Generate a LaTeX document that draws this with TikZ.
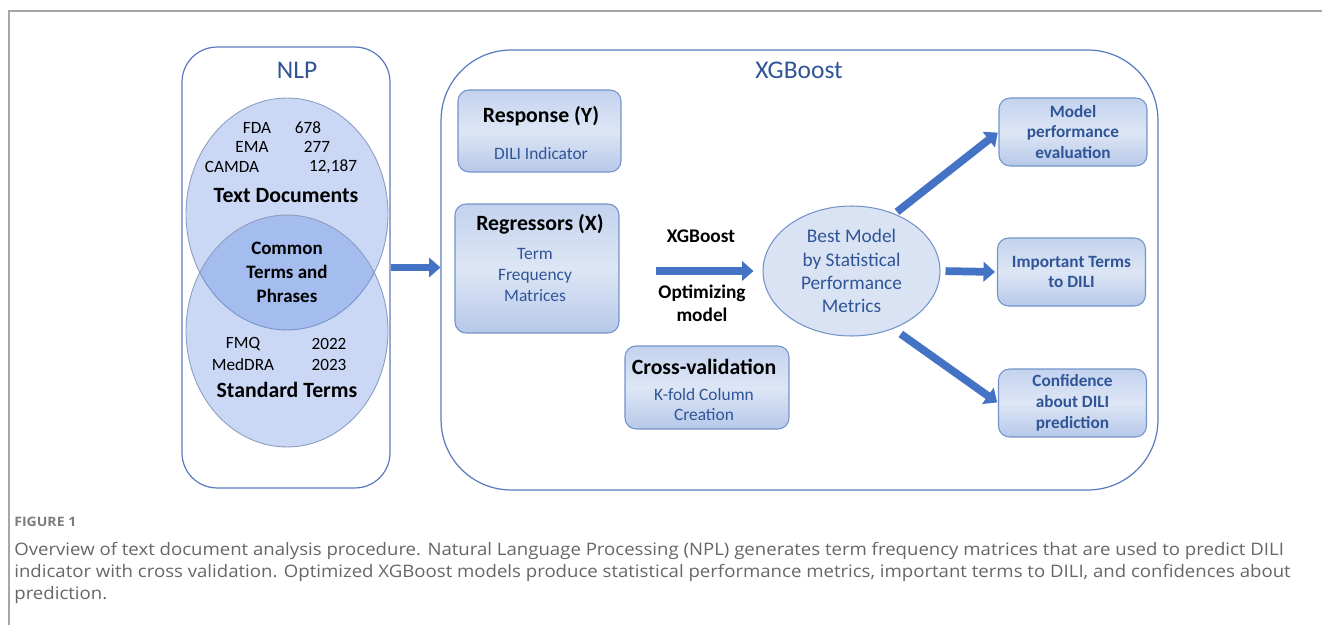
\documentclass[tikz,border=0pt]{standalone}
\usepackage{fontspec}
\setmainfont{Carlito}
\newfontfamily\capfont[FakeStretch=1.08]{Open Sans}
\usepackage{tikz}
\usetikzlibrary{arrows.meta, shapes.geometric}
\definecolor{primary}{HTML}{2F5597}
\definecolor{accent}{HTML}{4472C4}
\definecolor{groupline}{HTML}{5B7BC0}
\definecolor{boxline}{HTML}{7393C9}
\definecolor{boxtop}{HTML}{C3D2EE}
\definecolor{boxmid}{HTML}{DDE6F5}
\definecolor{boxbot}{HTML}{B6C8E9}
\definecolor{ellfill}{HTML}{DAE3F3}
\definecolor{venn}{RGB}{78,125,222}
\definecolor{vennline}{HTML}{8C9CC0}
\definecolor{framegray}{HTML}{A6A6A6}
\definecolor{capgray}{HTML}{666666}

\begin{document}
\begin{tikzpicture}[
    x=0.02cm, y=-0.02cm,
    every node/.style={inner sep=0pt},
    group/.style={
        rectangle,
        draw=groupline,
        line width=0.7pt
    },
    title/.style={
        font=\fontsize{14.5}{16}\selectfont,
        text=primary
    },
    venn/.style={
        ellipse,
        draw=vennline,
        line width=0.5pt,
        fill=venn,
        fill opacity=0.3,
        minimum width=4.04cm,
        minimum height=4.64cm
    },
    small/.style={font=\fontsize{9.8}{11}\selectfont},
    big/.style={font=\fontsize{12.4}{14}\selectfont\bfseries},
    inbox/.style={
        rectangle,
        rounded corners=0.22cm,
        draw=boxline,
        line width=0.6pt,
        top color=boxtop,
        bottom color=boxbot,
        middle color=boxmid
    },
    sub/.style={
        font=\fontsize{9.9}{11.9}\selectfont,
        text=primary,
        align=center
    },
    outbox/.style={
        inbox,
        minimum width=2.96cm,
        minimum height=1.36cm,
        font=\fontsize{9.8}{11.9}\selectfont\bfseries,
        text=primary,
        align=center
    },
    fat/.style={line width=4.4pt, accent, -{Triangle[length=6.5pt, width=11pt]}}
]
\useasboundingbox (0,0) rectangle (1322,625);

% Frame
\draw[framegray, line width=0.8pt] (1322,11) -- (9,11) -- (9,625);

% Groups
\node[group, rounded corners=0.7cm, minimum width=4.16cm, minimum height=8.82cm] (nlp) at (286,267.5) {};
\node[group, rounded corners=1.4cm, minimum width=14.34cm, minimum height=8.8cm] (xgb) at (799.5,270) {};
\node[title] (nlptitle) at (297,70) {NLP};
\node[title] (xgbtitle) at (799,70) {XGBoost};

% Venn diagram
\node[venn] (docs) at (287,214) {};
\node[venn] (terms) at (287,331) {};

\node[small] (fda) at (257,128) {FDA};
\node[small] (fdan) at (308,128) {678};
\node[small] (ema) at (252,147) {EMA};
\node[small] (eman) at (317,147) {277};
\node[small] (camda) at (232,167) {CAMDA};
\node[small] (camdan) at (333,167) {12,187};
\node[big] (docstitle) at (286,196) {Text Documents};

\node[font=\fontsize{10.8}{13.6}\selectfont\bfseries, align=center] (common) at (287,272) {Common\\Terms and\\Phrases};

\node[small] (fmq) at (243,344) {FMQ};
\node[small] (fmqn) at (329,344) {2022};
\node[small] (meddra) at (243,365) {MedDRA};
\node[small] (meddran) at (329,365) {2023};
\node[big] (termstitle) at (287,390) {Standard Terms};

% Inputs
\node[inbox, minimum width=3.26cm, minimum height=1.64cm] (resp) at (539.5,131) {};
\node[big] (resptitle) at (541,116) {Response (Y)};
\node[sub] (respsub) at (541,154) {DILI Indicator};

\node[inbox, minimum width=3.28cm, minimum height=2.58cm] (reg) at (537,268.5) {};
\node[big] (regtitle) at (540,224) {Regressors (X)};
\node[sub] (regsub) at (535,275) {Term\\Frequency\\Matrices};

\node[inbox, minimum width=3.28cm, minimum height=1.66cm] (cv) at (707,387.5) {};
\node[big] (cvtitle) at (704,367) {Cross-validation};
\node[sub] (cvsub) at (704,404.5) {K-fold Column\\Creation};

% Model
\node[font=\fontsize{11}{13}\selectfont\bfseries] (xglabel) at (701,236) {XGBoost};
\node[font=\fontsize{11}{13.2}\selectfont\bfseries, align=center] (optlabel) at (702,303.5) {Optimizing\\model};

\node[ellipse, draw=boxline, line width=0.6pt, fill=ellfill, minimum width=3.54cm, minimum height=2.6cm,
      font=\fontsize{11}{13.2}\selectfont, text=primary, align=center] (best) at (851.5,271)
      {Best Model\\by Statistical\\Performance\\Metrics};

% Outputs
\node[outbox] (perf) at (1073,132) {Model\\performance\\evaluation};
\node[outbox] (imp) at (1071.5,272) {Important Terms\\to DILI};
\node[outbox] (conf) at (1072.5,403) {Confidence\\about DILI\\prediction};

% Arrows
\draw[fat] (nlp.east) -- (nlp.east -| xgb.west);
\draw[fat, shorten <=0.72cm, shorten >=0.18cm] (reg.east |- best.west) -- (best.west);
\draw[fat, shorten <=0.06cm, shorten >=0.02cm] (best.53) -- (perf.west);
\draw[fat, shorten <=0.1cm, shorten >=0.04cm] (best.east) -- (imp.west);
\draw[fat, shorten <=0.18cm, shorten >=0.02cm] (best.-54) -- (conf.west);

% Caption
\node[anchor=west, font=\capfont\fontsize{7.4}{8}\selectfont\bfseries, text=capgray!85] (figlabel) at (14,522) {FIGURE 1};
\node[anchor=north west, font=\capfont\fontsize{9.8}{12.5}\selectfont, text=capgray, align=left] (caption) at (14,542)
    {Overview of text document analysis procedure. Natural Language Processing (NPL) generates term frequency matrices that are used to predict DILI\\
     indicator with cross validation. Optimized XGBoost models produce statistical performance metrics, important terms to DILI, and confidences about\\
     prediction.};

\end{tikzpicture}
\end{document}
